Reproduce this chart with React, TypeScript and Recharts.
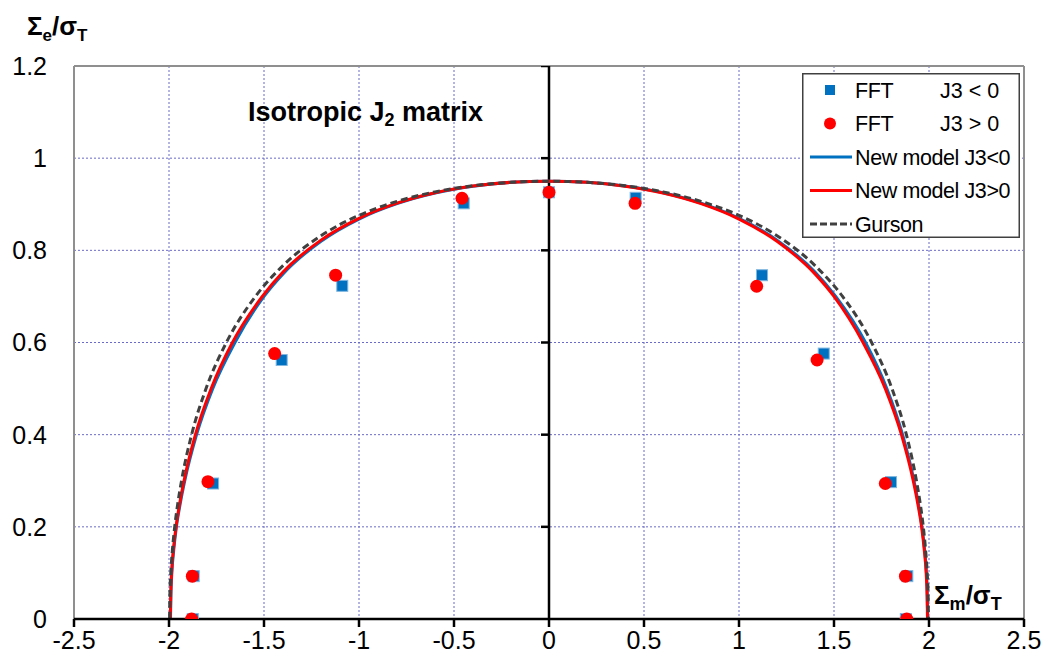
import {
  ComposedChart,
  CartesianGrid,
  Legend,
  Line,
  ReferenceLine,
  Scatter,
  XAxis,
  YAxis,
} from 'recharts'

const FONT = '"Liberation Sans", Arial, sans-serif'
const BLUE = '#0070C0'
const RED = '#FF0000'
const GREY = '#404040'

const xTicks = [-2.5, -2, -1.5, -1, -0.5, 0, 0.5, 1, 1.5, 2, 2.5]
const yTicks = [0, 0.2, 0.4, 0.6, 0.8, 1, 1.2]
const centerTicks = [0.2, 0.4, 0.6, 0.8, 1, 1.2]

// FFT points, J3 < 0
const fftNeg = [
  { x: -1.875, y: 0 },
  { x: -1.87, y: 0.093 },
  { x: -1.768, y: 0.294 },
  { x: -1.407, y: 0.562 },
  { x: -1.088, y: 0.723 },
  { x: -0.449, y: 0.902 },
  { x: 0, y: 0.926 },
  { x: 0.456, y: 0.914 },
  { x: 1.121, y: 0.746 },
  { x: 1.446, y: 0.576 },
  { x: 1.8, y: 0.297 },
  { x: 1.886, y: 0.093 },
  { x: 1.878, y: 0 },
]

// FFT points, J3 > 0
const fftPos = [
  { x: -1.881, y: 0 },
  { x: -1.877, y: 0.093 },
  { x: -1.795, y: 0.298 },
  { x: -1.444, y: 0.576 },
  { x: -1.123, y: 0.746 },
  { x: -0.458, y: 0.913 },
  { x: 0, y: 0.926 },
  { x: 0.453, y: 0.902 },
  { x: 1.093, y: 0.722 },
  { x: 1.411, y: 0.562 },
  { x: 1.77, y: 0.294 },
  { x: 1.876, y: 0.093 },
  { x: 1.883, y: 0 },
]

const modelNeg = [
  { x: -1.992, y: 0 },
  { x: -1.99, y: 0.05 },
  { x: -1.985, y: 0.1 },
  { x: -1.975, y: 0.15 },
  { x: -1.961, y: 0.2 },
  { x: -1.941, y: 0.25 },
  { x: -1.917, y: 0.3 },
  { x: -1.855, y: 0.4 },
  { x: -1.77, y: 0.5 },
  { x: -1.653, y: 0.6 },
  { x: -1.5, y: 0.7 },
  { x: -1.4, y: 0.7489 },
  { x: -1.2, y: 0.8197 },
  { x: -1.0, y: 0.8679 },
  { x: -0.8, y: 0.9013 },
  { x: -0.6, y: 0.9244 },
  { x: -0.4, y: 0.9392 },
  { x: -0.2, y: 0.9476 },
  { x: 0, y: 0.95 },
  { x: 0.2, y: 0.9476 },
  { x: 0.4, y: 0.9394 },
  { x: 0.6, y: 0.9249 },
  { x: 0.8, y: 0.9023 },
  { x: 1.0, y: 0.8694 },
  { x: 1.2, y: 0.8222 },
  { x: 1.4, y: 0.7529 },
  { x: 1.509, y: 0.7 },
  { x: 1.666, y: 0.6 },
  { x: 1.778, y: 0.5 },
  { x: 1.861, y: 0.4 },
  { x: 1.921, y: 0.3 },
  { x: 1.944, y: 0.25 },
  { x: 1.963, y: 0.2 },
  { x: 1.977, y: 0.15 },
  { x: 1.9865, y: 0.1 },
  { x: 1.991, y: 0.05 },
  { x: 1.993, y: 0 },
]

const modelPos = [
  { x: -1.993, y: 0 },
  { x: -1.991, y: 0.05 },
  { x: -1.9865, y: 0.1 },
  { x: -1.977, y: 0.15 },
  { x: -1.963, y: 0.2 },
  { x: -1.944, y: 0.25 },
  { x: -1.921, y: 0.3 },
  { x: -1.861, y: 0.4 },
  { x: -1.778, y: 0.5 },
  { x: -1.666, y: 0.6 },
  { x: -1.509, y: 0.7 },
  { x: -1.4, y: 0.7529 },
  { x: -1.2, y: 0.8222 },
  { x: -1.0, y: 0.8694 },
  { x: -0.8, y: 0.9023 },
  { x: -0.6, y: 0.9249 },
  { x: -0.4, y: 0.9394 },
  { x: -0.2, y: 0.9476 },
  { x: 0, y: 0.95 },
  { x: 0.2, y: 0.9476 },
  { x: 0.4, y: 0.9392 },
  { x: 0.6, y: 0.9244 },
  { x: 0.8, y: 0.9013 },
  { x: 1.0, y: 0.8679 },
  { x: 1.2, y: 0.8197 },
  { x: 1.4, y: 0.7489 },
  { x: 1.5, y: 0.7 },
  { x: 1.653, y: 0.6 },
  { x: 1.77, y: 0.5 },
  { x: 1.855, y: 0.4 },
  { x: 1.917, y: 0.3 },
  { x: 1.941, y: 0.25 },
  { x: 1.961, y: 0.2 },
  { x: 1.975, y: 0.15 },
  { x: 1.985, y: 0.1 },
  { x: 1.99, y: 0.05 },
  { x: 1.992, y: 0 },
]

const gurson = [
  { x: -1.997, y: 0 },
  { x: -1.9955, y: 0.05 },
  { x: -1.9905, y: 0.1 },
  { x: -1.982, y: 0.15 },
  { x: -1.97, y: 0.2 },
  { x: -1.954, y: 0.25 },
  { x: -1.934, y: 0.3 },
  { x: -1.881, y: 0.4 },
  { x: -1.805, y: 0.5 },
  { x: -1.698, y: 0.6 },
  { x: -1.545, y: 0.7 },
  { x: -1.4, y: 0.7669 },
  { x: -1.2, y: 0.8317 },
  { x: -1.0, y: 0.8759 },
  { x: -0.8, y: 0.9063 },
  { x: -0.6, y: 0.9269 },
  { x: -0.4, y: 0.9402 },
  { x: -0.2, y: 0.9476 },
  { x: 0, y: 0.95 },
  { x: 0.2, y: 0.9476 },
  { x: 0.4, y: 0.9402 },
  { x: 0.6, y: 0.9269 },
  { x: 0.8, y: 0.9063 },
  { x: 1.0, y: 0.8759 },
  { x: 1.2, y: 0.8317 },
  { x: 1.4, y: 0.7669 },
  { x: 1.545, y: 0.7 },
  { x: 1.698, y: 0.6 },
  { x: 1.805, y: 0.5 },
  { x: 1.881, y: 0.4 },
  { x: 1.934, y: 0.3 },
  { x: 1.954, y: 0.25 },
  { x: 1.97, y: 0.2 },
  { x: 1.982, y: 0.15 },
  { x: 1.9905, y: 0.1 },
  { x: 1.9955, y: 0.05 },
  { x: 1.997, y: 0 },
]

const centerTickMarks = centerTicks.map((y) => ({ x: 0, y }))

const legendRows = [
  { name: 'FFT', note: 'J3 < 0', kind: 'square', color: BLUE },
  { name: 'FFT', note: 'J3 > 0', kind: 'circle', color: RED },
  { name: 'New model J3<0', note: '', kind: 'line', color: BLUE },
  { name: 'New model J3>0', note: '', kind: 'line', color: RED },
  { name: 'Gurson', note: '', kind: 'dash', color: GREY },
]

const SquareDot = (props: any) => {
  const { cx, cy } = props
  if (cx == null || cy == null) return null
  return <rect x={cx - 5.5} y={cy - 5.5} width={11} height={11} fill={BLUE} stroke="#7fb6e0" strokeWidth={1} />
}

const CircleDot = (props: any) => {
  const { cx, cy } = props
  if (cx == null || cy == null) return null
  return <circle cx={cx} cy={cy} r={6.5} fill={RED} />
}

const CenterTick = (props: any) => {
  const { cx, cy } = props
  if (cx == null || cy == null) return null
  return <line x1={cx - 8} y1={cy} x2={cx} y2={cy} stroke="#000" strokeWidth={2.5} />
}

function LegendBox() {
  return (
    <svg width={218} height={165} style={{ display: 'block' }}>
      <rect x={0.75} y={0.75} width={216.5} height={163.5} fill="#fff" stroke={GREY} strokeWidth={1.5} />
      {legendRows.map((row, i) => {
        const cy = 17 + i * 33.5
        return (
          <g key={row.name + i}>
            {row.kind === 'square' && <rect x={23} y={cy - 5} width={10} height={10} fill={row.color} />}
            {row.kind === 'circle' && <circle cx={28} cy={cy} r={6} fill={row.color} />}
            {row.kind === 'line' && <line x1={8} y1={cy} x2={50} y2={cy} stroke={row.color} strokeWidth={3} />}
            {row.kind === 'dash' && (
              <line x1={8} y1={cy} x2={50} y2={cy} stroke={row.color} strokeWidth={3} strokeDasharray="7 3" />
            )}
            <text x={53} y={cy + 7.5} fontSize={21.5} fontFamily={FONT} fill="#000" letterSpacing={-0.4}>
              {row.name}
            </text>
            {row.note && (
              <text x={138} y={cy + 7.5} fontSize={21.5} fontFamily={FONT} fill="#000">
                {row.note}
              </text>
            )}
          </g>
        )
      })}
    </svg>
  )
}

export default function App() {
  return (
    <div style={{ position: 'absolute', left: 0, top: 0, width: 1050, height: 671, background: '#fff' }}>
      <ComposedChart width={1050} height={671} margin={{ top: 66, right: 26, bottom: 0, left: 0 }}>
        <CartesianGrid stroke="#6a6ac8" strokeDasharray="2 2" strokeWidth={1} />
        <XAxis
          type="number"
          dataKey="x"
          domain={[-2.5, 2.5]}
          ticks={xTicks}
          interval={0}
          height={52}
          allowDataOverflow
          axisLine={{ stroke: '#000', strokeWidth: 2.5 }}
          tickLine={{ stroke: '#000', strokeWidth: 2.5 }}
          tickSize={8}
          tickMargin={4}
          tick={{ fill: '#000', fontSize: 25, fontFamily: FONT }}
        />
        <YAxis
          type="number"
          dataKey="y"
          domain={[0, 1.2]}
          ticks={yTicks}
          interval={0}
          width={74}
          allowDataOverflow
          axisLine={false}
          tickLine={false}
          tickSize={0}
          tickMargin={27}
          tick={{ fill: '#000', fontSize: 25, fontFamily: FONT }}
        />
        <ReferenceLine x={-2.5} stroke="#8f8f8f" strokeWidth={2} />
        <ReferenceLine x={2.5} stroke="#8f8f8f" strokeWidth={2} />
        <ReferenceLine y={1.2} stroke="#8f8f8f" strokeWidth={2} />
        <ReferenceLine x={0} stroke="#000" strokeWidth={2.5} />
        <Scatter data={centerTickMarks} dataKey="y" shape={CenterTick} isAnimationActive={false} legendType="none" />
        <Scatter data={fftNeg} dataKey="y" name="FFT J3 < 0" shape={SquareDot} isAnimationActive={false} />
        <Scatter data={fftPos} dataKey="y" name="FFT J3 > 0" shape={CircleDot} isAnimationActive={false} />
        <Line
          data={modelNeg}
          dataKey="y"
          name="New model J3<0"
          type="monotone"
          stroke={BLUE}
          strokeWidth={3}
          dot={false}
          isAnimationActive={false}
        />
        <Line
          data={modelPos}
          dataKey="y"
          name="New model J3>0"
          type="monotone"
          stroke={RED}
          strokeWidth={3}
          dot={false}
          isAnimationActive={false}
        />
        <Line
          data={gurson}
          dataKey="y"
          name="Gurson"
          type="monotone"
          stroke={GREY}
          strokeWidth={3}
          strokeDasharray="7 4"
          dot={false}
          isAnimationActive={false}
        />
        <Legend
          layout="vertical"
          align="center"
          verticalAlign="middle"
          content={() => <LegendBox />}
          wrapperStyle={{ left: 802, top: 73, width: 218, height: 165 }}
        />
      </ComposedChart>
      <svg
        width={1050}
        height={671}
        style={{ position: 'absolute', left: 0, top: 0, pointerEvents: 'none' }}
        fontFamily={FONT}
        fontWeight="bold"
        fill="#000"
      >
        <text x={27} y={35} fontSize={26}>
          Σ<tspan fontSize={17} dy={6}>e</tspan>
          <tspan dy={-6}>/σ</tspan>
          <tspan fontSize={17} dy={6}>T</tspan>
        </text>
        <text x={934} y={604} fontSize={26}>
          Σ<tspan fontSize={18} dy={6}>m</tspan>
          <tspan dy={-6}>/σ</tspan>
          <tspan fontSize={18} dy={6}>T</tspan>
        </text>
        <text x={248} y={121} fontSize={27}>
          Isotropic J<tspan fontSize={18} dy={5}>2</tspan>
          <tspan dy={-5}> matrix</tspan>
        </text>
      </svg>
    </div>
  )
}
